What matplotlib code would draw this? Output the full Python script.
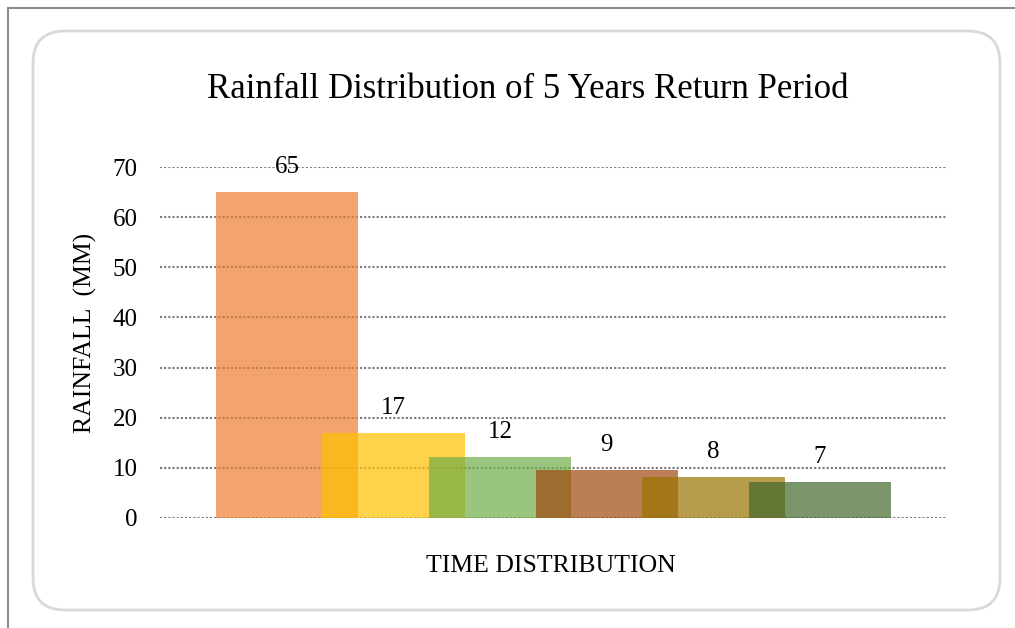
import numpy as np
import matplotlib
matplotlib.use("Agg")
import matplotlib.pyplot as plt
from matplotlib.patches import FancyBboxPatch
from matplotlib.lines import Line2D

values = [65.0, 17.0, 12.1, 9.6, 8.2, 7.1]
labels = ["65", "17", "12", "9", "8", "7"]
colors = ["#ED7D31", "#FFC000", "#70AD47", "#9E480E", "#997300", "#43682B"]
yticks = [0, 10, 20, 30, 40, 50, 60, 70]

plt.rcParams["font.family"] = ["Liberation Serif", "DejaVu Serif"]

W, H = 1015, 628
fig = plt.figure(figsize=(W / 100, H / 100), dpi=100)

# outer page lines (left + top)
fig.add_artist(Line2D([8 / W, 8 / W], [0, 1 - 8 / H], transform=fig.transFigure,
                      color="#8c8c8c", lw=1.5, zorder=-2))
fig.add_artist(Line2D([8 / W, 1], [1 - 8 / H, 1 - 8 / H], transform=fig.transFigure,
                      color="#8c8c8c", lw=1.5, zorder=-2))

# rounded chart area frame
box = FancyBboxPatch((0.33, 0.18), 9.67, 5.79, boxstyle="round,pad=0,rounding_size=0.32",
                     transform=fig.dpi_scale_trans, facecolor="white",
                     edgecolor="#d9d9d9", lw=2, zorder=-1)
fig.add_artist(box)

ax = fig.add_axes([160 / W, 110 / H, 787 / W, 351 / H])
ax.patch.set_alpha(0)

x = np.arange(len(values))
for i in range(len(values)):
    ax.bar(x[i], values[i], width=1.333, color=colors[i], alpha=0.7,
           linewidth=0, zorder=2 + i)
    ax.annotate(labels[i], (x[i], values[i]), xytext=(0, 18), textcoords="offset points",
                ha="center", va="center", fontsize=18, zorder=20)

ax.set_xlim(-1.19, 6.19)
ax.set_ylim(0, 70)
ax.set_yticks(yticks)
ax.set_xticks([])
ax.tick_params(axis="y", length=0, pad=16, labelsize=18)
ax.yaxis.grid(True, linestyle=(0, (1, 1)), color="#7a7a7a", lw=1.5, zorder=0)
ax.set_axisbelow(True)
for s in ax.spines.values():
    s.set_visible(False)

fig.text(528 / W, 1 - 89 / H, "Rainfall Distribution of 5 Years Return Period",
         ha="center", va="center", fontsize=25)
fig.text(85 / W, 1 - 333 / H, "RAINFALL  (MM)", rotation=90,
         ha="center", va="center", fontsize=18.5)
fig.text(551 / W, 1 - 566 / H, "TIME DISTRIBUTION",
         ha="center", va="center", fontsize=18.5)

fig.savefig("out.png", dpi=100)
